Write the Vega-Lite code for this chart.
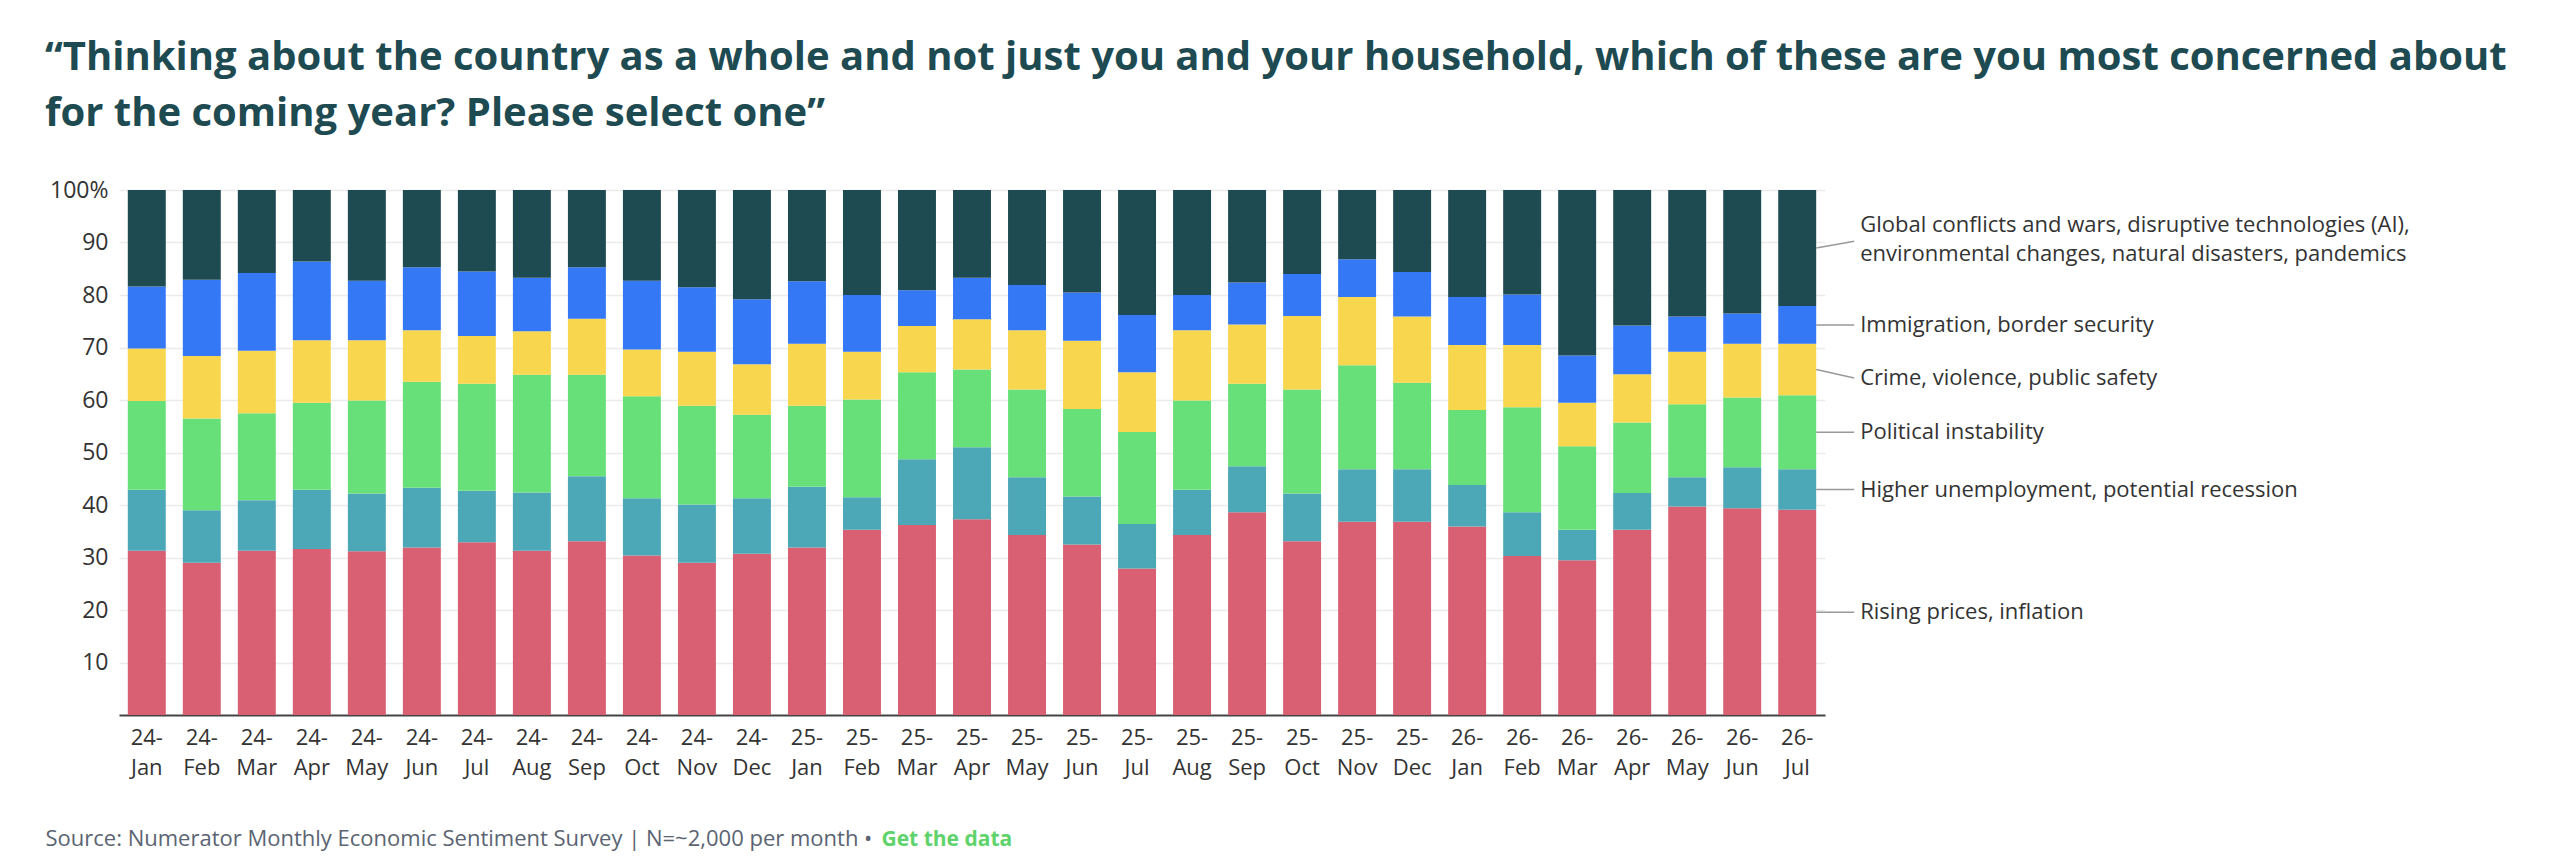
{
  "$schema": "https://vega.github.io/schema/vega-lite/v6.json",
  "description": "Monthly share of top national concern, stacked to 100%",
  "autosize": "none",
  "width": 1706,
  "height": 525,
  "padding": {"left": 119, "top": 190, "right": 735, "bottom": 153},
  "background": "white",
  "config": {
    "font": "Open Sans",
    "view": {"stroke": null}
  },
  "title": {
    "text": [
      "“Thinking about the country as a whole and not just you and your household, which of these are you most concerned about",
      "for the coming year? Please select one”"
    ],
    "font": "Open Sans",
    "fontSize": 40,
    "fontWeight": 700,
    "color": "#1e4a51",
    "anchor": "start",
    "frame": "group",
    "dx": -74,
    "lineHeight": 56,
    "offset": 45
  },
  "datasets": {
    "survey": [
      {"month": "24-Jan", "prices": 31.3, "unemployment": 11.6, "political": 16.9, "crime": 10.0, "immigration": 11.8, "global": 18.4},
      {"month": "24-Feb", "prices": 29.0, "unemployment": 10.0, "political": 17.5, "crime": 11.9, "immigration": 14.5, "global": 17.1},
      {"month": "24-Mar", "prices": 31.3, "unemployment": 9.6, "political": 16.6, "crime": 11.9, "immigration": 14.8, "global": 15.8},
      {"month": "24-Apr", "prices": 31.6, "unemployment": 11.3, "political": 16.6, "crime": 11.9, "immigration": 15.0, "global": 13.6},
      {"month": "24-May", "prices": 31.2, "unemployment": 11.0, "political": 17.7, "crime": 11.5, "immigration": 11.3, "global": 17.3},
      {"month": "24-Jun", "prices": 31.9, "unemployment": 11.4, "political": 20.2, "crime": 9.8, "immigration": 12.0, "global": 14.7},
      {"month": "24-Jul", "prices": 32.9, "unemployment": 9.8, "political": 20.4, "crime": 9.1, "immigration": 12.3, "global": 15.5},
      {"month": "24-Aug", "prices": 31.3, "unemployment": 11.1, "political": 22.4, "crime": 8.3, "immigration": 10.2, "global": 16.7},
      {"month": "24-Sep", "prices": 33.1, "unemployment": 12.4, "political": 19.3, "crime": 10.7, "immigration": 9.8, "global": 14.7},
      {"month": "24-Oct", "prices": 30.4, "unemployment": 10.9, "political": 19.4, "crime": 8.9, "immigration": 13.1, "global": 17.3},
      {"month": "24-Nov", "prices": 29.0, "unemployment": 11.1, "political": 18.8, "crime": 10.3, "immigration": 12.3, "global": 18.5},
      {"month": "24-Dec", "prices": 30.7, "unemployment": 10.6, "political": 15.9, "crime": 9.6, "immigration": 12.4, "global": 20.8},
      {"month": "25-Jan", "prices": 31.9, "unemployment": 11.6, "political": 15.4, "crime": 11.8, "immigration": 11.9, "global": 17.4},
      {"month": "25-Feb", "prices": 35.3, "unemployment": 6.2, "political": 18.6, "crime": 9.1, "immigration": 10.8, "global": 20.0},
      {"month": "25-Mar", "prices": 36.2, "unemployment": 12.5, "political": 16.6, "crime": 8.8, "immigration": 6.8, "global": 19.1},
      {"month": "25-Apr", "prices": 37.3, "unemployment": 13.7, "political": 14.8, "crime": 9.6, "immigration": 7.9, "global": 16.7},
      {"month": "25-May", "prices": 34.3, "unemployment": 11.0, "political": 16.7, "crime": 11.3, "immigration": 8.6, "global": 18.1},
      {"month": "25-Jun", "prices": 32.5, "unemployment": 9.1, "political": 16.7, "crime": 13.0, "immigration": 9.2, "global": 19.5},
      {"month": "25-Jul", "prices": 27.9, "unemployment": 8.5, "political": 17.5, "crime": 11.4, "immigration": 10.9, "global": 23.8},
      {"month": "25-Aug", "prices": 34.3, "unemployment": 8.6, "political": 17.0, "crime": 13.4, "immigration": 6.7, "global": 20.0},
      {"month": "25-Sep", "prices": 38.6, "unemployment": 8.8, "political": 15.7, "crime": 11.3, "immigration": 8.0, "global": 17.6},
      {"month": "25-Oct", "prices": 33.1, "unemployment": 9.1, "political": 19.8, "crime": 14.0, "immigration": 8.0, "global": 16.0},
      {"month": "25-Nov", "prices": 36.8, "unemployment": 10.0, "political": 19.8, "crime": 13.0, "immigration": 7.2, "global": 13.2},
      {"month": "25-Dec", "prices": 36.8, "unemployment": 10.0, "political": 16.5, "crime": 12.6, "immigration": 8.5, "global": 15.6},
      {"month": "26-Jan", "prices": 35.9, "unemployment": 7.9, "political": 14.3, "crime": 12.4, "immigration": 9.1, "global": 20.4},
      {"month": "26-Feb", "prices": 30.3, "unemployment": 8.3, "political": 20.0, "crime": 11.9, "immigration": 9.6, "global": 19.9},
      {"month": "26-Mar", "prices": 29.5, "unemployment": 5.8, "political": 15.9, "crime": 8.3, "immigration": 9.0, "global": 31.5},
      {"month": "26-Apr", "prices": 35.3, "unemployment": 7.0, "political": 13.4, "crime": 9.2, "immigration": 9.3, "global": 25.8},
      {"month": "26-May", "prices": 39.7, "unemployment": 5.6, "political": 13.9, "crime": 10.0, "immigration": 6.7, "global": 24.1},
      {"month": "26-Jun", "prices": 39.4, "unemployment": 7.8, "political": 13.3, "crime": 10.2, "immigration": 5.8, "global": 23.5},
      {"month": "26-Jul", "prices": 39.1, "unemployment": 7.7, "political": 14.1, "crime": 9.8, "immigration": 7.2, "global": 22.1}
    ],
    "categories": [
      {"key": "prices", "rank": 1, "label": "Rising prices, inflation"},
      {"key": "unemployment", "rank": 2, "label": "Higher unemployment, potential recession"},
      {"key": "political", "rank": 3, "label": "Political instability"},
      {"key": "crime", "rank": 4, "label": "Crime, violence, public safety"},
      {"key": "immigration", "rank": 5, "label": "Immigration, border security"},
      {"key": "global", "rank": 6, "label": "Global conflicts and wars, disruptive technologies (AI),\nenvironmental changes, natural disasters, pandemics"}
    ]
  },
  "data": {"name": "survey"},
  "transform": [
    {"fold": ["prices", "unemployment", "political", "crime", "immigration", "global"], "as": ["key", "value"]},
    {"lookup": "key", "from": {"data": {"name": "categories"}, "key": "key", "fields": ["rank", "label"]}}
  ],
  "layer": [
    {
      "mark": {"type": "bar"},
      "encoding": {
        "x": {
          "field": "month",
          "type": "nominal",
          "sort": null,
          "title": "Source:  Numerator Monthly Economic Sentiment Survey | N=~2,000 per month •",
          "scale": {"paddingInner": 0.31, "paddingOuter": 0.16},
          "axis": {
            "labelAngle": 0,
            "labelExpr": "[slice(datum.label, 0, 3), slice(datum.label, 3)]",
            "labelFont": "Open Sans",
            "labelFontSize": 22,
            "labelColor": "#333333",
            "labelLineHeight": 30,
            "labelPadding": 12,
            "ticks": false,
            "domainColor": "#444444",
            "domainWidth": 2,
            "titleFont": "Open Sans",
            "titleFontSize": 22,
            "titleFontWeight": "normal",
            "titleColor": "#5b6472",
            "titleAnchor": "start",
            "titleAlign": "left",
            "titleBaseline": "alphabetic",
            "titleX": -74,
            "titleY": 130
          }
        },
        "y": {
          "field": "value",
          "type": "quantitative",
          "stack": "zero",
          "title": "Get the data",
          "scale": {"domain": [0, 100], "nice": false},
          "axis": {
            "values": [10, 20, 30, 40, 50, 60, 70, 80, 90, 100],
            "labelExpr": "datum.value == 100 ? '100%' : datum.label",
            "labelFont": "Open Sans",
            "labelFontSize": 23,
            "labelColor": "#333333",
            "labelPadding": 11,
            "ticks": false,
            "domain": false,
            "gridColor": "#ebebeb",
            "gridWidth": 1.5,
            "titleAngle": 0,
            "titleFont": "Open Sans",
            "titleFontSize": 21,
            "titleFontWeight": "bold",
            "titleColor": "#5fd36b",
            "titleAlign": "left",
            "titleBaseline": "alphabetic",
            "titleX": 762,
            "titleY": 655
          }
        },
        "color": {
          "field": "key",
          "type": "nominal",
          "legend": null,
          "scale": {
            "domain": ["prices", "unemployment", "political", "crime", "immigration", "global"],
            "range": ["#d95f72", "#4ca7b7", "#68e07a", "#f8d64e", "#3478f6", "#1e4a51"]
          }
        },
        "order": {"field": "rank", "type": "quantitative", "sort": "ascending"}
      }
    },
    {
      "transform": [
        {"filter": "datum.month == '26-Jul'"},
        {"stack": "value", "groupby": ["month"], "sort": [{"field": "rank", "order": "ascending"}], "as": ["v0", "v1"]},
        {"calculate": "(datum.v0 + datum.v1) / 2", "as": "mid"},
        {"calculate": "datum.mid + (datum.key == 'global' ? 1.3 : datum.key == 'crime' ? -1.6 : 0)", "as": "labelAt"},
        {"calculate": "datum.labelAt + (datum.key == 'global' ? 3.0 : 0)", "as": "textAt"}
      ],
      "layer": [
        {
          "mark": {"type": "rule", "color": "#999999", "strokeWidth": 1.5, "x2Offset": 38},
          "encoding": {
            "x": {"field": "month", "type": "nominal", "sort": null, "bandPosition": 1, "title": "Source:  Numerator Monthly Economic Sentiment Survey | N=~2,000 per month •"},
            "x2": {"field": "month", "bandPosition": 1},
            "y": {"field": "mid", "type": "quantitative", "title": "Get the data"},
            "y2": {"field": "labelAt"}
          }
        },
        {
          "mark": {"type": "text", "align": "left", "baseline": "middle", "dx": 44, "font": "Open Sans", "fontSize": 22, "color": "#333333", "lineBreak": "\n", "lineHeight": 29},
          "encoding": {
            "x": {"field": "month", "type": "nominal", "sort": null, "bandPosition": 1, "title": "Source:  Numerator Monthly Economic Sentiment Survey | N=~2,000 per month •"},
            "y": {"field": "textAt", "type": "quantitative", "title": "Get the data"},
            "text": {"field": "label"}
          }
        }
      ]
    }
  ]
}
